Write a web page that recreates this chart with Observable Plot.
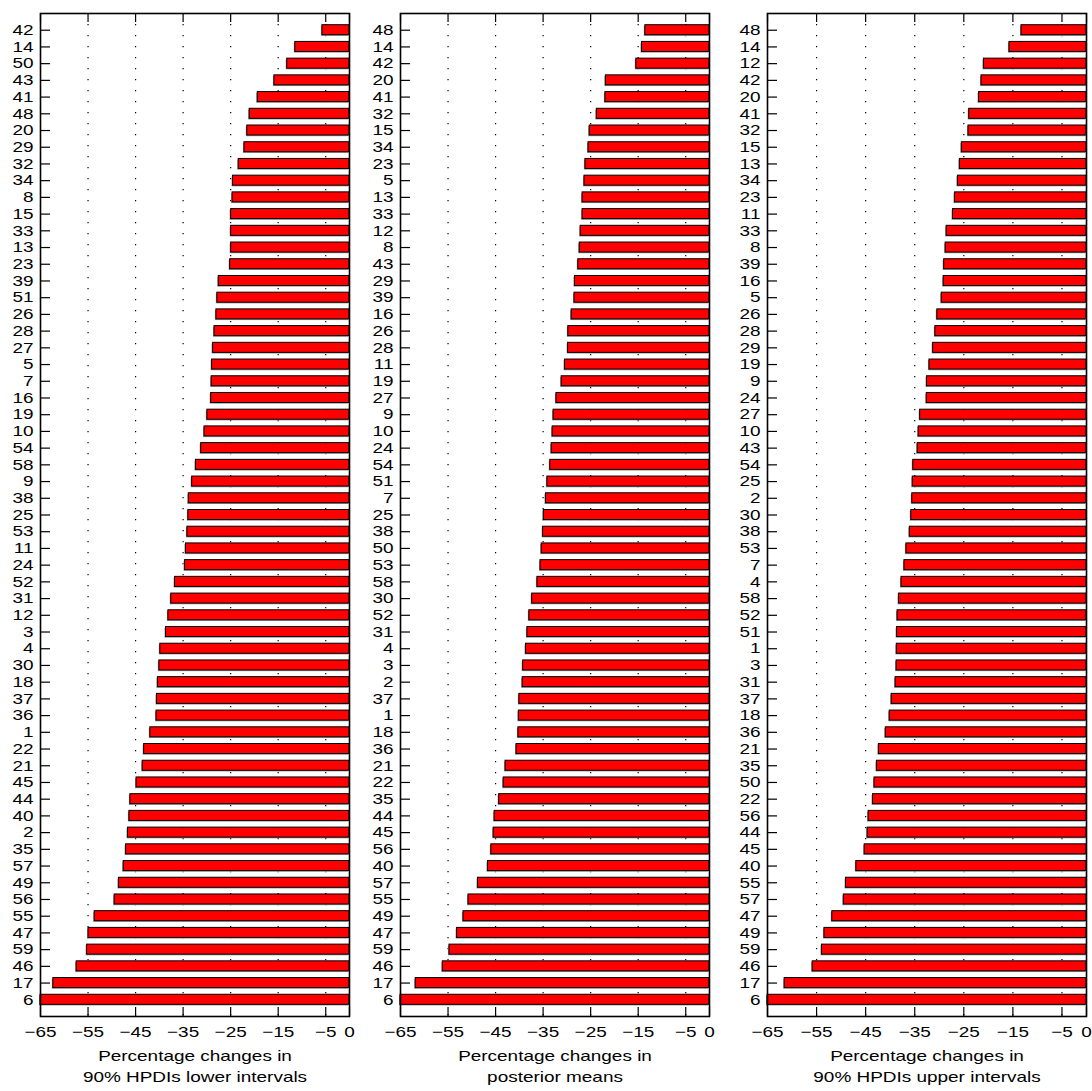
<!DOCTYPE html>
<html><head><meta charset="utf-8">
<script src="https://cdn.jsdelivr.net/npm/d3@7"></script>
<script src="https://cdn.jsdelivr.net/npm/@observablehq/plot@0.6"></script>
<style>
body{margin:0;background:#fff;}
#chart{position:relative;width:1092px;height:1091px;background:#fff;}
#chart svg{position:absolute;top:0;}
</style></head><body><div id="chart"></div>
<script>
const xTicks = [-65, -55, -45, -35, -25, -15, -5, 0];
const gridTicks = [-55, -45, -35, -25, -15, -5];

const lowerIds = [42,14,50,43,41,48,20,29,32,34,8,15,33,13,23,39,51,26,28,27,5,7,16,19,10,54,58,9,38,25,53,11,24,52,31,12,3,4,30,18,37,36,1,22,21,45,44,40,2,35,57,49,56,55,47,59,46,17,6];
const lowerValues = [-5.7,-11.4,-13.1,-15.8,-19.3,-21.0,-21.5,-22.1,-23.3,-24.5,-24.6,-24.9,-24.9,-24.9,
 -25.1,-27.5,-27.8,-28.0,-28.4,-28.7,-28.9,-29.0,-29.1,-29.9,-30.5,-31.2,-32.3,-33.1,-33.8,
 -33.9,-34.1,-34.4,-34.6,-36.7,-37.5,-38.1,-38.6,-39.8,-40.0,-40.3,-40.5,-40.6,-41.9,-43.2,
 -43.5,-44.8,-46.1,-46.3,-46.6,-47.0,-47.5,-48.5,-49.4,-53.6,-54.9,-55.2,-57.4,-62.3,-65];

const meanIds = [48,14,42,20,41,32,15,34,23,5,13,33,12,8,43,29,39,16,26,28,11,19,27,9,10,24,54,51,7,25,38,50,53,58,30,52,31,4,3,2,37,1,18,36,21,22,35,44,45,56,40,57,55,49,47,59,46,17,6];
const meanValues = [-13.5,-14.2,-15.4,-21.8,-21.9,-23.7,-25.2,-25.45,-26.1,-26.3,-26.7,-26.7,-27.1,-27.3,
 -27.6,-28.3,-28.4,-29.0,-29.7,-29.75,-30.4,-31.1,-32.2,-32.8,-33.0,-33.2,-33.5,-34.1,-34.4,
 -34.85,-35.0,-35.3,-35.55,-36.2,-37.3,-37.9,-38.3,-38.6,-39.2,-39.3,-40.0,-40.1,-40.2,-40.6,
 -42.9,-43.3,-44.25,-45.2,-45.4,-45.9,-46.6,-48.7,-50.7,-51.75,-53.1,-54.7,-56.1,-61.8,-65];

const upperIds = [48,14,12,42,20,41,32,15,13,34,23,11,33,8,39,16,5,26,28,29,19,9,24,27,10,43,54,25,2,30,38,53,7,4,58,52,51,1,3,31,37,18,36,21,35,50,22,56,44,45,40,55,57,47,49,59,46,17,6];
const upperValues = [-13.25,-15.7,-20.9,-21.4,-21.9,-23.9,-24.05,-25.4,-25.8,-26.2,-26.8,-27.2,-28.5,-28.7,
 -29.0,-29.1,-29.5,-30.4,-30.8,-31.25,-32.0,-32.5,-32.55,-33.9,-34.2,-34.4,-35.3,-35.4,-35.5,
 -35.7,-36.0,-36.7,-37.1,-37.7,-38.2,-38.5,-38.6,-38.65,-38.7,-38.9,-39.7,-40.1,-40.9,-42.3,
 -42.7,-43.2,-43.5,-44.4,-44.6,-45.2,-46.9,-49.0,-49.45,-51.8,-53.4,-53.9,-55.8,-61.5,-65];

const titlesLine1 = ["Percentage changes in", "Percentage changes in", "Percentage changes in"];
const titlesLine2 = ["90% HPDIs lower intervals", "posterior means", "90% HPDIs upper intervals"];

const fmt = d3.format("d");
const STRETCH = 1.28;

function panel(ids, values, t1, t2, left, width, marginLeft, marginRight) {
  const data = ids.map((id, i) => ({id: String(id), v: values[i]}));
  const H = 1091, mt = 13, mb = 75;
  const fw = width - marginLeft - marginRight;
  const fh = H - mt - mb;
  const font = {fontSize: 14.8, fill: "black"};
  const svg = Plot.plot({
    width, height: H, marginLeft, marginRight, marginTop: mt, marginBottom: mb,
    style: {fontFamily: "'Liberation Sans', Arial, sans-serif", background: "white", overflow: "visible"},
    x: {domain: [-65, 0], axis: null},
    y: {domain: data.map(d => d.id), axis: null, paddingInner: 0.4, paddingOuter: 0.7},
    marks: [
      Plot.ruleX(gridTicks, {x: d => d, stroke: "black", strokeWidth: 1.2, strokeDasharray: "1.2,9.8"}),
      Plot.ruleY(data, {y: "id", insetRight: fw - 10, stroke: "black", strokeWidth: 1.2}),
      Plot.barX(data, {x1: "v", x2: () => 0, y: "id", fill: "#9a9a9a", dx: -1, dy: 1.2}),
      Plot.barX(data, {x1: "v", x2: () => 0, y: "id", fill: "#ff0000", stroke: "black", strokeWidth: 1}),
      Plot.ruleX(xTicks, {x: d => d, insetBottom: fh - 9, stroke: "black", strokeWidth: 1.2}),
      Plot.ruleX(xTicks, {x: d => d, insetTop: fh - 9, stroke: "black", strokeWidth: 1.2}),
      Plot.frame({stroke: "black", strokeWidth: 1.6}),
      Plot.text(data, {y: "id", text: "id", frameAnchor: "left", textAnchor: "end", dx: -7, ...font}),
      Plot.text(xTicks, {x: d => d, text: d => fmt(d), frameAnchor: "bottom", dy: 20, ...font}),
      Plot.text([t1], {text: d => d, frameAnchor: "bottom", dy: 44, ...font}),
      Plot.text([t2], {text: d => d, frameAnchor: "bottom", dy: 65, ...font})
    ]
  });
  svg.style.left = left + "px";
  document.getElementById("chart").appendChild(svg);
  svg.querySelectorAll("text").forEach(t => {
    const w = t.getComputedTextLength();
    if (w > 0) {
      t.setAttribute("textLength", (w * STRETCH).toFixed(2));
      t.setAttribute("lengthAdjust", "spacingAndGlyphs");
    }
  });
}

panel(lowerIds, lowerValues, titlesLine1[0], titlesLine2[0], 0, 360, 40, 11);
panel(meanIds, meanValues, titlesLine1[1], titlesLine2[1], 360, 360, 40, 11);
panel(upperIds, upperValues, titlesLine1[2], titlesLine2[2], 720, 372, 47, 6);
</script></body></html>
